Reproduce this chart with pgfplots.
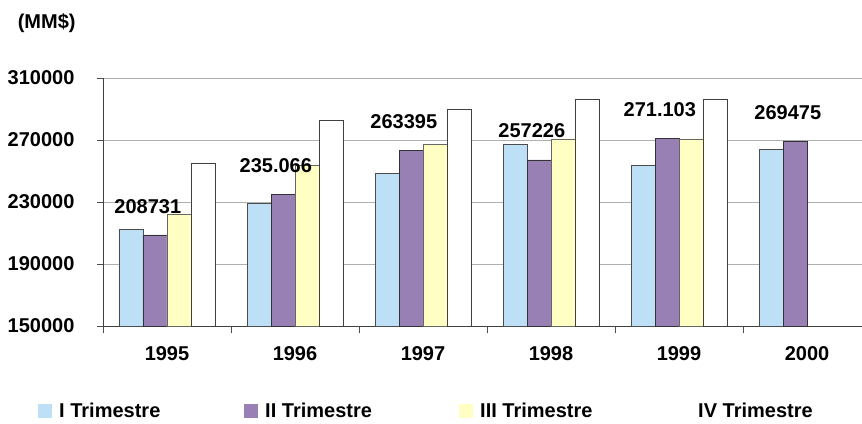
\documentclass[border=0pt]{standalone}
\usepackage{fontspec}
\setmainfont{Liberation Sans}
\usepackage{pgfplots}
\pgfplotsset{compat=1.18}

\definecolor{qone}{RGB}{189,224,246}
\definecolor{qtwo}{RGB}{152,128,181}
\definecolor{qthree}{RGB}{255,255,196}
\definecolor{gridgray}{RGB}{175,175,175}
\newcommand{\bigbf}{\bfseries\fontsize{20}{23}\selectfont}

\begin{document}
\begin{tikzpicture}
\begin{axis}[
    scale only axis,
    width=759pt, height=248pt,
    xmin=-0.5, xmax=5.4297,
    ymin=150000, ymax=310000,
    clip=false,
    ybar=0pt, bar width=24pt,
    axis lines*=left,
    axis line style={draw=black!75, line width=0.9pt},
    ytick={150000,190000,230000,270000,310000},
    yticklabels={150000,190000,230000,270000,310000},
    scaled y ticks=false,
    ymajorgrids,
    grid style={draw=gridgray, line width=0.9pt},
    xtick={0,...,5},
    xticklabels={1995,1996,1997,1998,1999,2000},
    minor xtick={-0.5,0.5,1.5,2.5,3.5,4.5},
    major x tick style={draw=none},
    minor tick length=7pt,
    major tick length=6pt,
    tick align=outside,
    tick style={draw=black!70, line width=0.9pt},
    ticklabel style={font=\bigbf},
    yticklabel style={xshift=-19pt},
    xticklabel style={yshift=-11pt},
    legend columns=4,
    legend style={at={(-0.0856,-0.3427)}, anchor=west, draw=none, fill=none,
        inner sep=0pt, font=\bigbf},
    legend image code/.code={\fill[#1,draw=none] (0pt,-7pt) rectangle (14pt,7pt);},
]
\addplot[fill=qone, draw=black!70] coordinates {
    (0,212400) (1,229360) (2,248500) (3,267200) (4,253680) (5,263770)};
\addlegendentry{\makebox[188pt][l]{\hspace{5pt}I Trimestre}}
\addplot[fill=qtwo, draw=black!80] coordinates {
    (0,208731) (1,235066) (2,263395) (3,257226) (4,271103) (5,269475)};
\addlegendentry{\makebox[197pt][l]{\hspace{5pt}II Trimestre}}
\addplot[fill=qthree, draw=black!60] coordinates {
    (0,222450) (1,253680) (2,267210) (3,270650) (4,270650)};
\addlegendentry{\makebox[200pt][l]{\hspace{5pt}III Trimestre}}
\addplot[fill=white, draw=black!75] coordinates {
    (0,255170) (1,282700) (2,289800) (3,296460) (4,296460)};
\addlegendentry{\hspace{5pt}IV Trimestre}

\node[font=\bigbf] at (axis cs:-0.15,226780) {208731};
\node[font=\bigbf] at (axis cs:0.85,253430) {235.066};
\node[font=\bigbf] at (axis cs:1.85,281940) {263395};
\node[font=\bigbf] at (axis cs:2.85,276000) {257226};
\node[font=\bigbf] at (axis cs:3.85,289690) {271.103};
\node[font=\bigbf] at (axis cs:4.85,287750) {269475};
\node[font=\bigbf] at (rel axis cs:-0.0742,1.2206) {(MM\$)};
\end{axis}
\pgfresetboundingbox
\useasboundingbox (-103pt,-97pt) rectangle (759pt,326pt);
\end{tikzpicture}
\end{document}
